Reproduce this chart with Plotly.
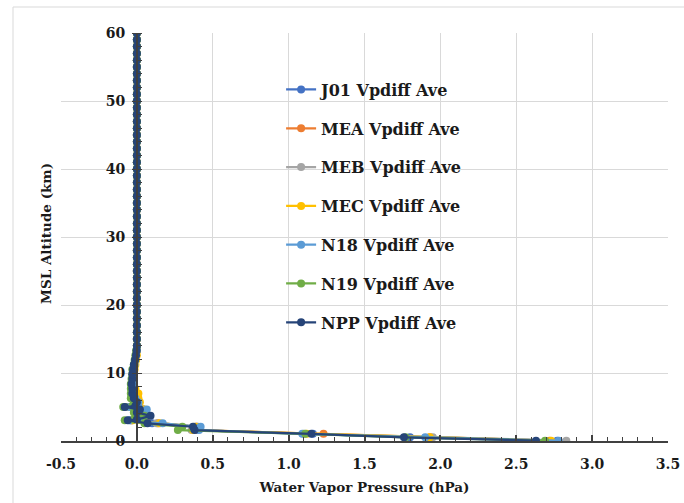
import plotly.graph_objects as go

# Altitude levels (km)
altitude = [0.05, 0.55, 1.05, 1.6, 2.1, 2.6, 3.05, 3.15, 3.7, 4.2, 4.65, 5.0, 5.15,
            5.7, 6.3, 7.0, 7.7, 8.4, 9.1, 9.8, 10.5, 11.2, 11.9, 12.6, 13.3, 14.0,
            15, 16, 17, 18, 19, 20, 21, 22, 23, 24, 25, 26, 27, 28, 29, 30,
            31, 32, 33, 34, 35, 36, 37, 38, 39, 40, 41, 42, 43, 44, 45,
            46, 47, 48, 49, 50, 51, 52, 53, 54, 55, 56, 57, 58, 59, 60]

j01 = [2.77, 1.80, 1.16, 0.39, 0.40, 0.10, -0.04, 0.02, 0.07, 0.02, 0.04, -0.06, 0.0,
       0.01, -0.01, -0.02, -0.03, -0.03, -0.03, -0.025, -0.02, -0.015, -0.01, -0.005, 0.0, 0.0,
       0.0, 0.0, 0.0, 0.0, 0.0, 0.0, 0.0, 0.0, 0.0, 0.0, 0.0, 0.0, 0.0, 0.0, 0.0, 0.0,
       0.0, 0.0, 0.0, 0.0, 0.0, 0.0, 0.0, 0.0, 0.0, 0.0, 0.0, 0.0, 0.0, 0.0, 0.0,
       0.0, 0.0, 0.0, 0.0, 0.0, 0.0, 0.0, 0.0, 0.0, 0.0, 0.0, 0.0, 0.0, 0.0, 0.0]
mea = [2.72, 1.93, 1.23, 0.38, 0.39, 0.14, -0.03, 0.02, 0.06, 0.01, 0.04, -0.05, 0.0,
       0.01, 0.0, -0.01, -0.02, -0.025, -0.025, -0.02, -0.02, -0.015, -0.01, -0.005, 0.0, 0.0,
       0.0, 0.0, 0.0, 0.0, 0.0, 0.0, 0.0, 0.0, 0.0, 0.0, 0.0, 0.0, 0.0, 0.0, 0.0, 0.0,
       0.0, 0.0, 0.0, 0.0, 0.0, 0.0, 0.0, 0.0, 0.0, 0.0, 0.0, 0.0, 0.0, 0.0, 0.0,
       0.0, 0.0, 0.0, 0.0, 0.0, 0.0, 0.0, 0.0, 0.0, 0.0, 0.0, 0.0, 0.0, 0.0, 0.0]
meb = [2.83, 1.95, 1.10, 0.36, 0.38, 0.13, -0.04, 0.02, 0.07, 0.01, 0.04, -0.06, 0.0,
       0.01, -0.01, -0.02, -0.025, -0.03, -0.03, -0.025, -0.02, -0.015, -0.01, -0.005, 0.0, 0.0,
       0.0, 0.0, 0.0, 0.0, 0.0, 0.0, 0.0, 0.0, 0.0, 0.0, 0.0, 0.0, 0.0, 0.0, 0.0, 0.0,
       0.0, 0.0, 0.0, 0.0, 0.0, 0.0, 0.0, 0.0, 0.0, 0.0, 0.0, 0.0, 0.0, 0.0, 0.0,
       0.0, 0.0, 0.0, 0.0, 0.0, 0.0, 0.0, 0.0, 0.0, 0.0, 0.0, 0.0, 0.0, 0.0, 0.0]
mec = [2.73, 1.93, 1.12, 0.37, 0.39, 0.15, -0.03, 0.02, 0.07, 0.02, 0.05, -0.05, 0.01,
       0.02, 0.01, 0.01, -0.01, -0.02, -0.02, -0.02, -0.015, -0.01, -0.005, 0.0, 0.0, 0.0,
       0.0, 0.0, 0.0, 0.0, 0.0, 0.0, 0.0, 0.0, 0.0, 0.0, 0.0, 0.0, 0.0, 0.0, 0.0, 0.0,
       0.0, 0.0, 0.0, 0.0, 0.0, 0.0, 0.0, 0.0, 0.0, 0.0, 0.0, 0.0, 0.0, 0.0, 0.0,
       0.0, 0.0, 0.0, 0.0, 0.0, 0.0, 0.0, 0.0, 0.0, 0.0, 0.0, 0.0, 0.0, 0.0, 0.0]
n18 = [2.78, 1.90, 1.09, 0.41, 0.42, 0.17, -0.05, 0.03, 0.06, 0.05, 0.065, -0.05, 0.01,
       0.01, -0.01, -0.02, -0.03, -0.03, -0.03, -0.025, -0.02, -0.015, -0.01, -0.005, 0.0, 0.0,
       0.0, 0.0, 0.0, 0.0, 0.0, 0.0, 0.0, 0.0, 0.0, 0.0, 0.0, 0.0, 0.0, 0.0, 0.0, 0.0,
       0.0, 0.0, 0.0, 0.0, 0.0, 0.0, 0.0, 0.0, 0.0, 0.0, 0.0, 0.0, 0.0, 0.0, 0.0,
       0.0, 0.0, 0.0, 0.0, 0.0, 0.0, 0.0, 0.0, 0.0, 0.0, 0.0, 0.0, 0.0, 0.0, 0.0]
n19 = [2.69, 1.77, 1.11, 0.27, 0.30, 0.05, -0.08, -0.02, 0.05, -0.02, 0.0, -0.09, -0.03,
       -0.02, -0.04, -0.04, -0.04, -0.04, -0.035, -0.03, -0.03, -0.02, -0.015, -0.01, -0.005, 0.0,
       0.0, 0.0, 0.0, 0.0, 0.0, 0.0, 0.0, 0.0, 0.0, 0.0, 0.0, 0.0, 0.0, 0.0, 0.0, 0.0,
       0.0, 0.0, 0.0, 0.0, 0.0, 0.0, 0.0, 0.0, 0.0, 0.0, 0.0, 0.0, 0.0, 0.0, 0.0,
       0.0, 0.0, 0.0, 0.0, 0.0, 0.0, 0.0, 0.0, 0.0, 0.0, 0.0, 0.0, 0.0, 0.0, 0.0]
npp = [2.63, 1.76, 1.15, 0.38, 0.37, 0.07, -0.06, 0.0, 0.09, 0.0, 0.02, -0.08, -0.01,
       0.0, -0.02, -0.03, -0.03, -0.035, -0.03, -0.03, -0.025, -0.02, -0.012, -0.006, -0.002, 0.0,
       0.0, 0.0, 0.0, 0.0, 0.0, 0.0, 0.0, 0.0, 0.0, 0.0, 0.0, 0.0, 0.0, 0.0, 0.0, 0.0,
       0.0, 0.0, 0.0, 0.0, 0.0, 0.0, 0.0, 0.0, 0.0, 0.0, 0.0, 0.0, 0.0, 0.0, 0.0,
       0.0, 0.0, 0.0, 0.0, 0.0, 0.0, 0.0, 0.0, 0.0, 0.0, 0.0, 0.0, 0.0, 0.0, 0.0]

series_names = ["J01 Vpdiff Ave", "MEA Vpdiff Ave", "MEB Vpdiff Ave", "MEC Vpdiff Ave",
                "N18 Vpdiff Ave", "N19 Vpdiff Ave", "NPP Vpdiff Ave"]
series_values = [j01, mea, meb, mec, n18, n19, npp]
series_colors = ["#4472C4", "#ED7D31", "#A5A5A5", "#FFC000", "#5B9BD5", "#70AD47", "#264478"]

x_tick_vals = [-0.5, 0.0, 0.5, 1.0, 1.5, 2.0, 2.5, 3.0, 3.5]
x_tick_text = ["-0.5", "0.0", "0.5", "1.0", "1.5", "2.0", "2.5", "3.0", "3.5"]
y_tick_vals = [0, 10, 20, 30, 40, 50, 60]

FONT = "DejaVu Serif"
TXT = "#1a1a1a"

fig = go.Figure()
for i, (name, vals, col) in enumerate(zip(series_names, series_values, series_colors)):
    fig.add_trace(go.Scatter(
        x=vals, y=altitude, name=name, mode="lines+markers",
        line=dict(color=col, width=2.25),
        marker=dict(color=col, size=8),
        legendgroup=f"g{i}",
    ))

fig.update_layout(
    width=684, height=503,
    margin=dict(l=61, r=16, t=33, b=62),
    paper_bgcolor="white", plot_bgcolor="white",
    font=dict(family=FONT, size=14, color=TXT, weight="bold"),
    showlegend=True,
    legend=dict(
        x=0.3626, y=0.903, xanchor="left", yanchor="top",
        bgcolor="rgba(0,0,0,0)", traceorder="grouped", tracegroupgap=15,
        itemwidth=30,
        font=dict(family=FONT, size=16, color=TXT, weight="bold"),
    ),
    xaxis=dict(
        range=[-0.5, 3.5], tickmode="array", tickvals=x_tick_vals, ticktext=x_tick_text,
        automargin=False,
        showgrid=True, gridcolor="#d9d9d9", gridwidth=1,
        zeroline=False, showline=True, linecolor="#404040", linewidth=1.5,
        ticks="inside", ticklen=6, tickcolor="#404040", tickwidth=1.5,
        minor=dict(dtick=0.1, tick0=0, ticks="inside", ticklen=4, tickcolor="#404040", tickwidth=1, showgrid=False),
        ticklabelstandoff=9,
        tickfont=dict(family=FONT, size=14, color=TXT, weight="bold"),
        title=dict(text="Water Vapor Pressure (hPa)", standoff=12,
                   font=dict(family=FONT, size=13.5, color=TXT, weight="bold")),
    ),
    yaxis=dict(
        range=[0, 60], tickmode="array", tickvals=y_tick_vals,
        anchor="free", position=0.125, automargin=False,
        showgrid=True, gridcolor="#d9d9d9", gridwidth=1,
        zeroline=False, showline=True, linecolor="#404040", linewidth=1.5,
        ticks="outside", ticklen=4, tickcolor="#404040", tickwidth=1,
        minor=dict(dtick=2, tick0=0, ticks="inside", ticklen=4, tickcolor="#404040", tickwidth=1, showgrid=False),
        ticklabelstandoff=4,
        tickfont=dict(family=FONT, size=14, color=TXT, weight="bold"),
    ),
    annotations=[dict(
        text="MSL Altitude (km)", xref="paper", yref="paper",
        x=(46 - 61) / 607, y=(441 - 234) / 408, xanchor="center", yanchor="middle",
        textangle=-90, showarrow=False,
        font=dict(family=FONT, size=13.5, color=TXT, weight="bold"),
    )],
    shapes=[dict(
        type="rect", xref="paper", yref="paper",
        x0=(13 - 61) / 607, x1=1.2, y0=-0.3, y1=(441 - 7) / 408,
        line=dict(color="#d9d9d9", width=1), layer="below",
    )],
)

fig.write_html("out.html")
